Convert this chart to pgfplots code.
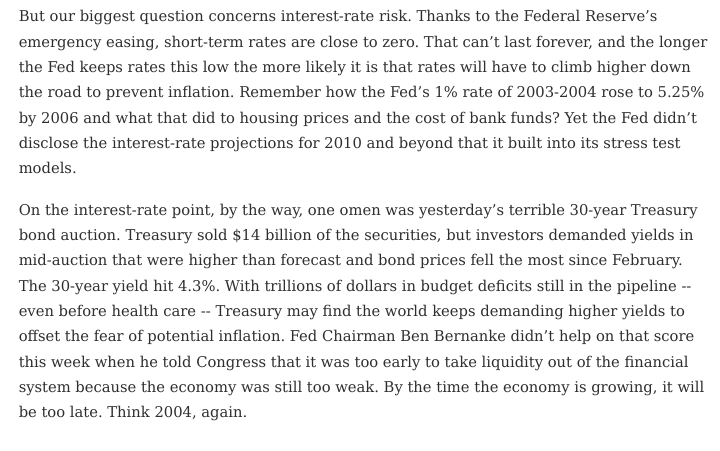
\documentclass[border=0pt]{standalone}
\usepackage{pgfplots}
\pgfplotsset{compat=1.18}
\usepackage{fontspec}
\setmainfont{DejaVu Serif Condensed}
\definecolor{txt}{HTML}{2E2E2E}
\newlength\lw
\newcommand\fs{\fontsize{15pt}{15pt}\selectfont\frenchspacing}
\begin{document}
\frenchspacing
\settowidth\lw{\fs emergency easing, short-term rates are close to zero. That can’t last forever, and the longer}
\pgfmathsetmacro\xs{694pt/\lw}
\begin{tikzpicture}
\begin{axis}[
  width=720pt, height=454pt, scale only axis,
  hide axis, xmin=0, xmax=720, ymin=0, ymax=454, y dir=reverse,
  clip=false,
]
\addplot[draw=none, forget plot] coordinates {(0,0) (720,454)};
\newcommand\T[2]{\node[anchor=base west, inner sep=0pt, text=txt, font=\fs] at (axis cs:13,#1) {\scalebox{\xs}[1]{#2}};}
\T{22}{But our biggest question concerns interest-rate risk. Thanks to the Federal Reserve’s}
\T{47.5}{emergency easing, short-term rates are close to zero. That can’t last forever, and the longer}
\T{73}{the Fed keeps rates this low the more likely it is that rates will have to climb higher down}
\T{98.5}{the road to prevent inflation. Remember how the Fed’s 1\% rate of 2003-2004 rose to 5.25\%}
\T{124}{by 2006 and what that did to housing prices and the cost of bank funds? Yet the Fed didn’t}
\T{149.5}{disclose the interest-rate projections for 2010 and beyond that it built into its stress test}
\T{175}{models.}
\T{217}{On the interest-rate point, by the way, one omen was yesterday’s terrible 30-year Treasury}
\T{242.5}{bond auction. Treasury sold \$14 billion of the securities, but investors demanded yields in}
\T{268}{mid-auction that were higher than forecast and bond prices fell the most since February.}
\T{293.5}{The 30-year yield hit 4.3\%. With trillions of dollars in budget deficits still in the pipeline {-}{-}}
\T{319}{even before health care {-}{-} Treasury may find the world keeps demanding higher yields to}
\T{344.5}{offset the fear of potential inflation. Fed Chairman Ben Bernanke didn’t help on that score}
\T{370}{this week when he told Congress that it was too early to take liquidity out of the financial}
\T{395.5}{system because the economy was still too weak. By the time the economy is growing, it will}
\T{421}{be too late. Think 2004, again.}
\end{axis}
\end{tikzpicture}
\end{document}
